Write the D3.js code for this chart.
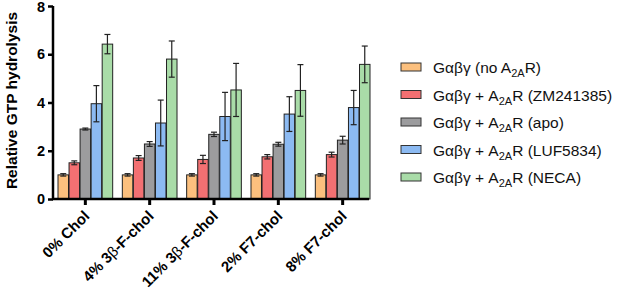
<!DOCTYPE html>
<html lang="en">
<head>
  <meta charset="UTF-8">
  <title>Relative GTP hydrolysis</title>
  <script src="https://cdn.jsdelivr.net/npm/d3@7"></script>
  <style>
    body { margin: 0; background: #fff; }
    svg { display: block; font-family: Arial, "Liberation Sans", sans-serif; }
  </style>
</head>
<body>
<script>
  // groups along the x axis
  const categories = ["0% Chol", "4% 3β-F-chol", "11% 3β-F-chol", "2% F7-chol", "8% F7-chol"];
  // series (legend order)
  const seriesNames = ["(no A2AR)", "(ZM241385)", "(apo)", "(LUF5834)", "(NECA)"];
  const seriesColors = ["#fcc07e", "#f37072", "#9c9c9e", "#8cbaf2", "#a9dca8"];
  // mean values, one array per series, in category order
  const noReceptor = [1.0, 1.0, 1.0, 1.0, 1.0];
  const zm241385 = [1.5, 1.7, 1.64, 1.75, 1.84];
  const apo = [2.9, 2.28, 2.68, 2.27, 2.44];
  const luf5834 = [3.95, 3.15, 3.42, 3.52, 3.79];
  const neca = [6.42, 5.8, 4.52, 4.5, 5.58];
  // error bar half-lengths
  const errNoReceptor = [0.05, 0.05, 0.05, 0.05, 0.05];
  const errZm = [0.08, 0.1, 0.17, 0.09, 0.1];
  const errApo = [0.04, 0.1, 0.09, 0.08, 0.16];
  const errLuf = [0.75, 0.95, 1.0, 0.72, 0.71];
  const errNeca = [0.4, 0.75, 1.1, 1.07, 0.76];
  const yTicks = [0, 2, 4, 6, 8];

  const values = [noReceptor, zm241385, apo, luf5834, neca];
  const errors = [errNoReceptor, errZm, errApo, errLuf, errNeca];

  const width = 617, height = 288;
  const svg = d3.select('body').append('svg')
    .attr('width', width)
    .attr('height', height);

  const x0 = d3.scaleBand().domain(categories).range([58, 370]).paddingInner(0.15).paddingOuter(0.0);
  const x1 = d3.scaleBand().domain(d3.range(seriesNames.length)).range([0, x0.bandwidth()]).paddingInner(0.05);
  const y = d3.scaleLinear().domain([0, 8]).range([199, 6]);

  // bars
  const groups = svg.append('g').selectAll('g')
    .data(categories)
    .enter().append('g')
    .attr('transform', d => `translate(${x0(d)},0)`);

  const barData = (c, ci) => seriesNames.map((s, si) => ({ si, v: values[si][ci], e: errors[si][ci] }));

  groups.each(function (c, ci) {
    const g = d3.select(this);
    const data = barData(c, ci);
    g.selectAll('rect')
      .data(data)
      .enter().append('rect')
      .attr('x', d => x1(d.si))
      .attr('y', d => y(d.v))
      .attr('width', x1.bandwidth())
      .attr('height', d => y(0) - y(d.v))
      .attr('fill', d => seriesColors[d.si])
      .attr('stroke', '#222')
      .attr('stroke-width', 1);

    // error bars
    const eb = g.selectAll('g.err')
      .data(data)
      .enter().append('g')
      .attr('class', 'err')
      .attr('stroke', '#222')
      .attr('stroke-width', 1.2);
    const cx = d => x1(d.si) + x1.bandwidth() / 2;
    eb.append('line')
      .attr('x1', cx).attr('x2', cx)
      .attr('y1', d => y(d.v + d.e)).attr('y2', d => y(d.v - d.e));
    eb.append('line')
      .attr('x1', d => cx(d) - 3).attr('x2', d => cx(d) + 3)
      .attr('y1', d => y(d.v + d.e)).attr('y2', d => y(d.v + d.e));
    eb.append('line')
      .attr('x1', d => cx(d) - 3).attr('x2', d => cx(d) + 3)
      .attr('y1', d => y(d.v - d.e)).attr('y2', d => y(d.v - d.e));
  });

  // y axis
  const yAxis = svg.append('g')
    .attr('transform', 'translate(53,0)')
    .call(d3.axisLeft(y).tickValues(yTicks).tickSize(5).tickPadding(3));
  yAxis.select('.domain').attr('stroke', '#000').attr('stroke-width', 2.5).attr('d', `M0,${y(8)}V${y(0)}`);
  yAxis.selectAll('.tick line').attr('stroke', '#000').attr('stroke-width', 2.5);
  yAxis.selectAll('.tick text')
    .attr('fill', '#000')
    .attr('dy', d => d === 8 ? '0.4em' : '0.32em')
    .style('font-size', '14.5px')
    .style('font-weight', 'bold');

  // x axis
  const xAxis = svg.append('g')
    .attr('transform', `translate(0,${y(0)})`)
    .call(d3.axisBottom(x0).tickSize(6).tickSizeOuter(0));
  xAxis.select('.domain').attr('stroke', '#000').attr('stroke-width', 2.5).attr('d', `M52,0H369`);
  xAxis.selectAll('.tick line').attr('stroke', '#000').attr('stroke-width', 3);
  xAxis.selectAll('.tick text').remove();
  xAxis.selectAll('.tick').append('text')
    .attr('fill', '#000')
    .attr('text-anchor', 'end')
    .attr('transform', 'translate(5,18) rotate(-45)')
    .style('font-size', '15px')
    .style('font-weight', 'bold')
    .each(function (d) {
      const t = d3.select(this);
      const parts = d.split('β');
      t.append('tspan').text(parts[0]);
      if (parts.length > 1) {
        t.append('tspan').style('font-weight', 'normal').text('β');
        t.append('tspan').text(parts[1]);
      }
    });

  // y axis title
  svg.append('text')
    .attr('transform', `translate(17,${(y(0) + y(8)) / 2 - 2}) rotate(-90)`)
    .attr('text-anchor', 'middle')
    .style('font-size', '15.5px')
    .style('font-weight', 'bold')
    .text('Relative GTP hydrolysis');

  // legend
  const legend = svg.append('g').attr('transform', 'translate(401,67)');
  const rows = legend.selectAll('g')
    .data(seriesNames)
    .enter().append('g')
    .attr('transform', (d, i) => `translate(0,${i * 27.5})`);
  rows.append('rect')
    .attr('x', 0).attr('y', -4)
    .attr('width', 20).attr('height', 8)
    .attr('fill', (d, i) => seriesColors[i])
    .attr('stroke', '#333')
    .attr('stroke-width', 1);
  rows.append('text')
    .attr('x', 32).attr('y', 6)
    .style('font-size', '15.5px')
    .attr('fill', '#111')
    .each(function (d, i) {
      const t = d3.select(this);
      if (i === 0) {
        t.append('tspan').text('Gαβγ (no A');
      } else {
        t.append('tspan').text('Gαβγ + A');
      }
      t.append('tspan').attr('dy', 4).style('font-size', '11px').text('2A');
      t.append('tspan').attr('dy', -4).text(i === 0 ? 'R)' : 'R ' + d);
    });
</script>
</body>
</html>
